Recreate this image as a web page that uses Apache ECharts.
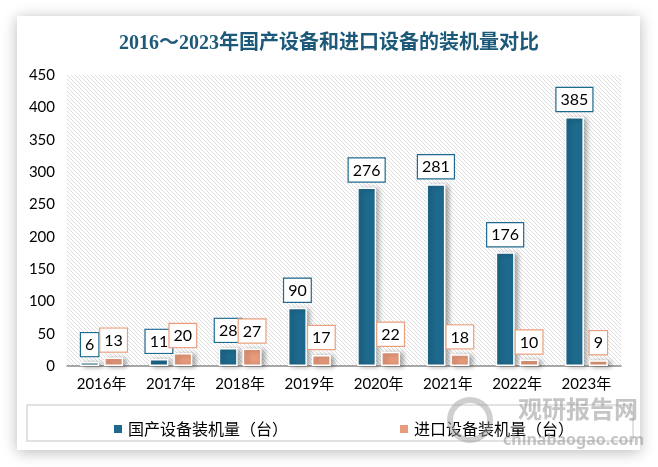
<!DOCTYPE html>
<html><head><meta charset="utf-8">
<script src="https://cdn.jsdelivr.net/npm/echarts@6/dist/echarts.min.js"></script>
<style>html,body{margin:0;padding:0;background:#fff;}#c{width:658px;height:467px;}</style>
</head><body><div id="c"></div>
<script>
var categories = ['2016年','2017年','2018年','2019年','2020年','2021年','2022年','2023年'];
var domestic = [6, 11, 28, 90, 276, 281, 176, 385];
var imported = [13, 20, 27, 17, 22, 18, 10, 9];
var seriesNames = ['国产设备装机量（台）', '进口设备装机量（台）'];
var titleText = '2016～2023年国产设备和进口设备的装机量对比';

var blue = '#1e6a8e', orange = '#e89b7b';

var pc = document.createElement('canvas');
pc.width = 4; pc.height = 4;
var ctx = pc.getContext('2d');
ctx.fillStyle = '#ffffff'; ctx.fillRect(0,0,4,4);
ctx.strokeStyle = '#dadada'; ctx.lineWidth = 0.9;
ctx.beginPath();
ctx.moveTo(-1,-1); ctx.lineTo(5,5);
ctx.moveTo(-1,3); ctx.lineTo(1,5);
ctx.moveTo(3,-1); ctx.lineTo(5,1);
ctx.stroke();

var chart = echarts.init(document.getElementById('c'), null, {renderer:'canvas'});
function lbl(color){
  return {show:true, position:'top', distance:6, color:'#000', fontSize:16,
    fontFamily:'Lato, "Noto Sans", sans-serif', backgroundColor:'#fff',
    borderColor:color, borderWidth:1.2, padding:[4,4,3,4]};
}
chart.setOption({
  animation:false,
  backgroundColor:'#fff',
  graphic:[
    {type:'rect', z:-10, shape:{x:17,y:16,width:623,height:434},
      style:{fill:'#fff', shadowBlur:14, shadowColor:'rgba(0,0,0,0.28)', shadowOffsetX:0, shadowOffsetY:2}},
    {type:'rect', z:-5, shape:{x:27,y:405,width:606,height:36},
      style:{fill:'none', stroke:'#d9d9d9', lineWidth:1.5}},
    {type:'circle', z:20, shape:{cx:470, cy:420, r:20},
      style:{fill:'none', stroke:'rgba(160,160,160,0.5)', lineWidth:6}},
    {type:'text', z:20, left:518, top:397, style:{text:'观研报告网', fill:'rgba(150,150,150,0.55)', font:'bold 24px "Noto Sans CJK SC"'}},
    {type:'text', z:20, left:503, top:432, style:{text:'chinabaogao.com', fill:'rgba(150,150,150,0.55)', font:'bold 16px "Noto Sans"'}}
  ],
  title:{text:titleText, left:'center', top:29,
    textStyle:{fontSize:20, fontWeight:'bold', color:'#1d5a7a', fontFamily:'"Liberation Serif", "Noto Sans CJK SC", serif'}},
  legend:{data:seriesNames, left:107, top:416, itemWidth:10, itemHeight:10, itemGap:110, icon:'rect',
    textStyle:{fontSize:16, color:'#000', fontFamily:'"Noto Sans CJK SC", sans-serif'}},
  grid:{left:67, right:37, top:75, bottom:101, show:true, borderWidth:0,
    backgroundColor:{image:pc, repeat:'repeat'}},
  xAxis:{type:'category', data:categories,
    axisLine:{lineStyle:{color:'#8c8c8c', width:1.5}}, axisTick:{show:false},
    axisLabel:{fontSize:15, color:'#000', margin:11, fontFamily:'Lato, "Noto Sans CJK SC", sans-serif'}},
  yAxis:{type:'value', min:0, max:450, interval:50,
    axisLine:{show:false}, axisTick:{show:false}, splitLine:{show:false},
    axisLabel:{fontSize:15, color:'#000', margin:12, fontFamily:'Lato, sans-serif'}},
  series:[
    {name:seriesNames[0], type:'bar', data:domestic, barWidth:19, barGap:'26%',
      itemStyle:{color:blue, borderColor:'#fff', borderWidth:1.5,
        shadowColor:'rgba(0,0,0,0.35)', shadowBlur:5, shadowOffsetX:3, shadowOffsetY:1},
      label:lbl(blue)},
    {name:seriesNames[1], type:'bar', data:imported, barWidth:19,
      itemStyle:{color:orange, borderColor:'#fff', borderWidth:1.5,
        shadowColor:'rgba(0,0,0,0.35)', shadowBlur:5, shadowOffsetX:3, shadowOffsetY:1},
      label:lbl('#e9a07f')}
  ]
});
</script></body></html>
